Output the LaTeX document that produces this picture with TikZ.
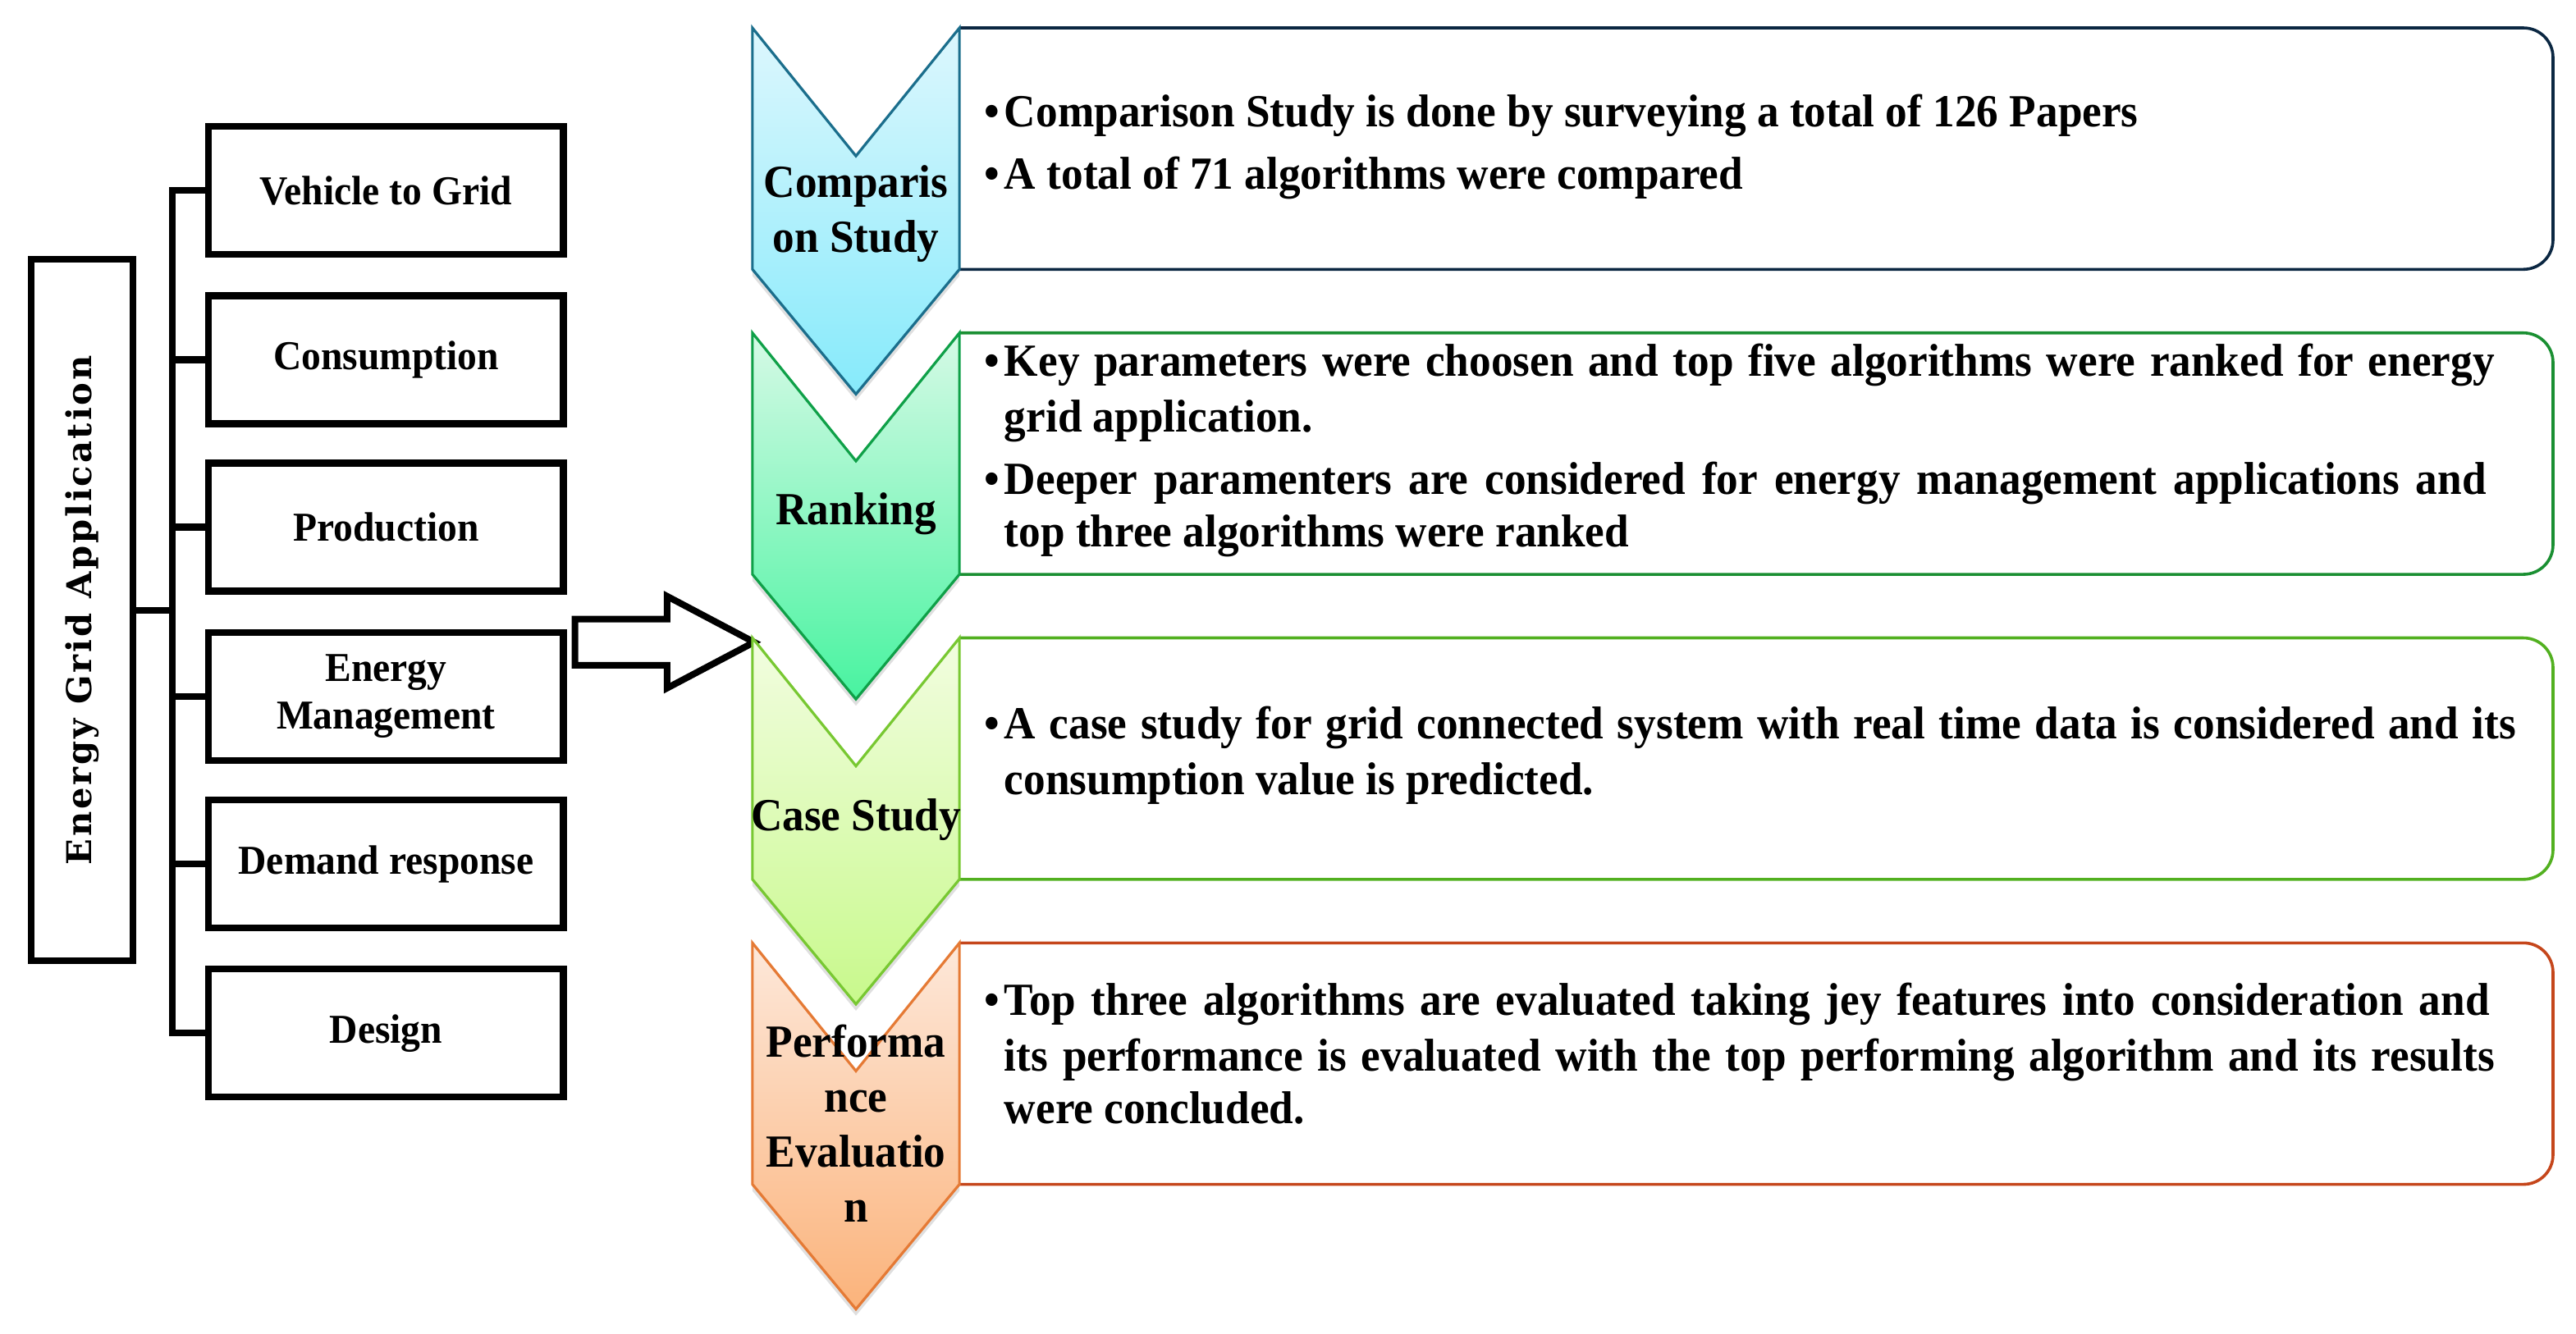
\documentclass[tikz,border=0pt]{standalone}
\usepackage{fontspec}
\setmainfont{Liberation Serif}
\newfontfamily\cam{Liberation Serif}[FakeStretch=0.95]
\newfontfamily\slab{DejaVu Serif}[LetterSpace=7]
\usetikzlibrary{shadows}
\definecolor{atop}{HTML}{DDF7FD}
\definecolor{abot}{HTML}{86EAFB}
\definecolor{aline}{HTML}{1B6E8C}
\definecolor{abox}{HTML}{0B2742}
\definecolor{btop}{HTML}{D6FAE6}
\definecolor{bbot}{HTML}{48F3A0}
\definecolor{bline}{HTML}{0FA048}
\definecolor{bbox}{HTML}{1A8F32}
\definecolor{ctop}{HTML}{F2FDE0}
\definecolor{cbot}{HTML}{C8F98C}
\definecolor{cline}{HTML}{78C832}
\definecolor{cbox}{HTML}{52B020}
\definecolor{dtop}{HTML}{FDE8DA}
\definecolor{dbot}{HTML}{FBB37B}
\definecolor{dline}{HTML}{E57A35}
\definecolor{dbox}{HTML}{C5461B}
\newcommand\bul{\makebox[6pt][l]{•}}
\newcommand\stagebox[5]{%
  \draw[tbox, draw=#5] (584,#1) -- (1554,#1) -- (1554,{#1+147}) -- (584,{#1+147});
  \draw[chev, draw=#4, top color=#2, bottom color=#3] (458,#1) -- (521,{#1+78}) -- (584,#1) -- (584,{#1+147}) -- (521,{#1+223}) -- (458,{#1+147}) -- cycle;
}
\begin{document}
\begin{tikzpicture}[x=0.5pt,y=-0.5pt,
  lbox/.style={draw=black, line width=2.1pt, minimum width=108pt, minimum height=39pt, inner sep=0pt, align=center, font=\cam\bfseries\fontsize{12.5}{14.5}\selectfont},
  conn/.style={line width=2.1pt},
  ln/.style={anchor=west, inner sep=0pt, text height=10pt, text depth=3pt, font=\cam\bfseries\fontsize{14}{16}\selectfont},
  clab/.style={inner sep=0pt, align=center, font=\cam\bfseries\fontsize{14}{16.8}\selectfont},
  chev/.style={line width=0.8pt, drop shadow={shadow xshift=0pt, shadow yshift=-2pt, opacity=0.25}},
  tbox/.style={line width=0.9pt, rounded corners=9pt},
]
\useasboundingbox (0,0) rectangle (1568,812);

% left tree
\node[draw, line width=2.1pt, rotate=90, minimum width=213.5pt, minimum height=31pt, inner sep=0pt, font=\slab\bfseries\fontsize{10.4}{12}\selectfont] (ega) at (50,371.5) {Energy Grid Application};
\node[lbox] (v2g) at (235,116) {Vehicle to Grid};
\node[lbox] (con) at (235,219) {Consumption};
\node[lbox] (pro) at (235,321) {Production};
\node[lbox] (emg) at (235,424) {Energy\\Management};
\node[lbox] (dr) at (235,526) {Demand response};
\node[lbox] (dsg) at (235,629) {Design};
\coordinate (bt) at (105,116);
\draw[conn] (v2g.west) -| (bt |- dsg.west) -- (dsg.west);
\foreach \n in {con,pro,emg,dr} \draw[conn] (\n.west) -- (\n.west -| bt);
\draw[conn] (ega.south) -- (ega.south -| bt);

% block arrow
\draw[line width=2pt, fill=white, miter limit=10] (350,377) -- (406,377) -- (406,363) -- (459,391) -- (406,419) -- (406,405) -- (350,405) -- cycle;

% stages
\stagebox{17}{atop}{abot}{aline}{abox}
\stagebox{202.7}{btop}{bbot}{bline}{bbox}
\stagebox{388.4}{ctop}{cbot}{cline}{cbox}
\stagebox{574.1}{dtop}{dbot}{dline}{dbox}

\node[clab] (c1) at (521,130) {Comparis\\on Study};
\node[clab] (c2) at (521,313) {Ranking};
\node[clab] (c3) at (521,499) {Case Study};
\node[clab] (c4) at (521,684) {Performa\\nce\\Evaluatio\\n};

\node[ln] (s1a) at (599,70) {\bul Comparison Study is done by surveying a total of 126 Papers};
\node[ln] (s1b) at (599,108) {\bul A total of 71 algorithms were compared};

\node[ln] (s2a) at (599,222) {\makebox[459.5pt][s]{\bul Key parameters were choosen and top five algorithms were ranked for energy}};
\node[ln] (s2b) at (611,256) {grid application.};
\node[ln] (s2c) at (599,294) {\makebox[457pt][s]{\bul Deeper paramenters are considered for energy management applications and}};
\node[ln] (s2d) at (611,326) {top three algorithms were ranked};

\node[ln] (s3a) at (599,443) {\makebox[466pt][s]{\bul A case study for grid connected system with real time data is considered and its}};
\node[ln] (s3b) at (611,477) {consumption value is predicted.};

\node[ln] (s4a) at (599,611) {\makebox[458pt][s]{\bul Top three algorithms are evaluated taking jey features into consideration and}};
\node[ln] (s4b) at (611,645) {\makebox[453.5pt][s]{its performance is evaluated with the top performing algorithm and its results}};
\node[ln] (s4c) at (611,677) {were concluded.};
\end{tikzpicture}
\end{document}
